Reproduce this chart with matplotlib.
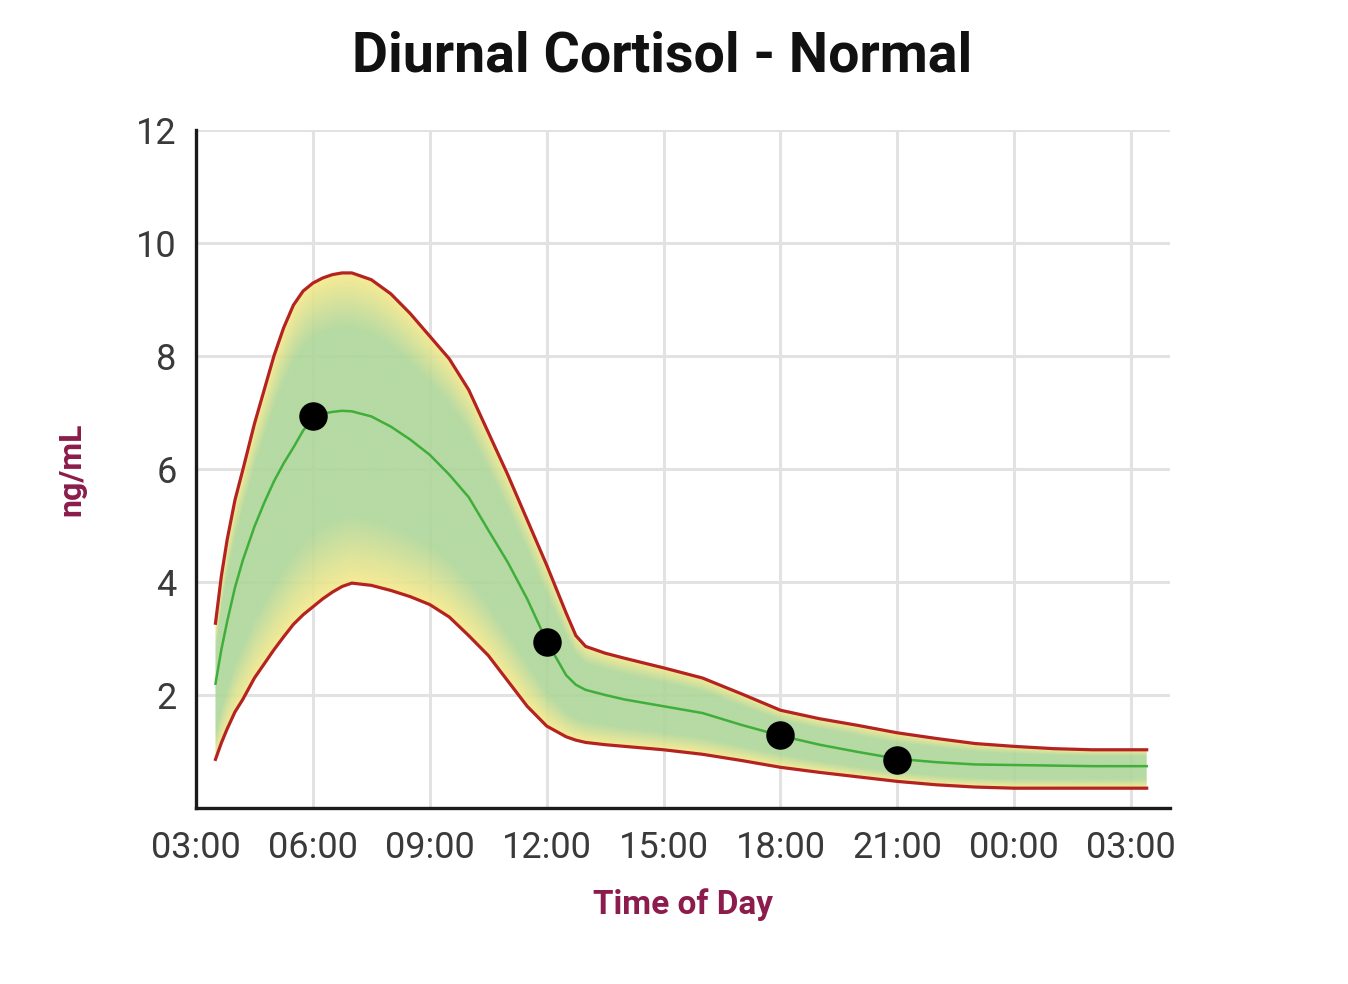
import numpy as np
import matplotlib
matplotlib.use('Agg')
import matplotlib.pyplot as plt
from matplotlib.patches import Polygon
from matplotlib.colors import to_rgb

# hours of day (27.4 = 03:24 next day)
hours = [3.5, 3.65, 3.8, 4.0, 4.2, 4.5, 4.75, 5.0, 5.25, 5.5, 5.75, 6.0, 6.25, 6.5,
         6.75, 7.0, 7.5, 8.0, 8.5, 9.0, 9.5, 10.0, 10.5, 11.0, 11.5, 12.0, 12.5,
         12.75, 13.0, 13.5, 14.0, 15.0, 16.0, 17.0, 18.0, 19.0, 20.0, 21.0, 22.0,
         23.0, 24.0, 25.0, 26.0, 27.4]
upper = [3.27, 4.1, 4.75, 5.45, 5.98, 6.8, 7.4, 8.0, 8.5, 8.9, 9.15, 9.29, 9.38, 9.44,
         9.47, 9.47, 9.35, 9.1, 8.75, 8.35, 7.95, 7.4, 6.65, 5.9, 5.1, 4.3, 3.45,
         3.05, 2.86, 2.74, 2.65, 2.48, 2.3, 2.02, 1.73, 1.58, 1.46, 1.33, 1.23,
         1.14, 1.09, 1.05, 1.03, 1.03]
middle = [2.2, 2.8, 3.3, 3.9, 4.38, 4.98, 5.4, 5.78, 6.1, 6.38, 6.68, 6.9, 6.98, 7.01,
          7.03, 7.02, 6.93, 6.75, 6.52, 6.25, 5.9, 5.5, 4.92, 4.35, 3.7, 2.95, 2.35,
          2.18, 2.09, 2.0, 1.92, 1.8, 1.68, 1.47, 1.28, 1.12, 0.99, 0.87, 0.81,
          0.77, 0.76, 0.75, 0.74, 0.74]
lower = [0.86, 1.15, 1.4, 1.7, 1.92, 2.3, 2.55, 2.8, 3.03, 3.25, 3.42, 3.56, 3.7, 3.82,
         3.92, 3.98, 3.94, 3.85, 3.74, 3.6, 3.38, 3.05, 2.7, 2.25, 1.8, 1.45, 1.26,
         1.2, 1.16, 1.12, 1.09, 1.03, 0.95, 0.84, 0.72, 0.63, 0.55, 0.47, 0.41,
         0.37, 0.35, 0.35, 0.35, 0.35]

# patient samples
sample_hours = [6, 12, 18, 21]
sample_values = [6.93, 2.94, 1.29, 0.85]

xticks = [3, 6, 9, 12, 15, 18, 21, 24, 27]
xticklabels = ['03:00', '06:00', '09:00', '12:00', '15:00', '18:00', '21:00', '00:00', '03:00']
yticks = [2, 4, 6, 8, 10, 12]

plt.rcParams['font.family'] = ['Roboto', 'DejaVu Sans']

fig = plt.figure(figsize=(13.48, 9.84), dpi=100)
ax = fig.add_axes([0.1454, 0.1789, 0.7226, 0.6890])

# gradient band: green core, yellow near the limits
gx = np.linspace(3.4, 27.5, 1400)
gy = np.linspace(0, 10, 700)
X, Y = np.meshgrid(gx, gy)
U = np.interp(X, hours, upper)
M = np.interp(X, hours, middle)
L = np.interp(X, hours, lower)
d = np.where(Y >= M, (Y - M) / np.maximum(U - M, 1e-6), (M - Y) / np.maximum(M - L, 1e-6))
t = np.clip((d - 0.6) / 0.4, 0, 1)[..., None]
green = np.array(to_rgb('#aed699'))
yellow = np.array(to_rgb('#f7e98a'))
rgb = green * (1 - t) + yellow * t
rgba = np.concatenate([rgb, np.full(rgb.shape[:2] + (1,), 0.9)], axis=2)
im = ax.imshow(rgba, extent=[3.4, 27.5, 0, 10], origin='lower', aspect='auto',
               interpolation='bilinear', zorder=1)
band = Polygon(np.column_stack([hours + hours[::-1], upper + lower[::-1]]),
               closed=True, facecolor='none', edgecolor='none')
ax.add_patch(band)
im.set_clip_path(band)

ax.plot(hours, upper, color='#b52320', lw=2.3, zorder=3, solid_joinstyle='round')
ax.plot(hours, lower, color='#b52320', lw=2.3, zorder=3, solid_joinstyle='round')
ax.plot(hours, middle, color='#3fae3a', lw=1.8, zorder=3, solid_joinstyle='round')
ax.plot(sample_hours, sample_values, 'o', color='black', markersize=19.5, zorder=4)

ax.set_xlim(3, 28)
ax.set_ylim(0, 12)
ax.set_xticks(xticks)
ax.set_xticklabels(xticklabels)
ax.set_yticks(yticks)
ax.tick_params(length=0, labelsize=26, labelcolor='#3a3a3a')
ax.tick_params(axis='x', pad=16)
ax.tick_params(axis='y', pad=14)
ax.grid(True, color='#e2e2e2', lw=2.2)
ax.set_axisbelow(True)

for s in ['top', 'right']:
    ax.spines[s].set_visible(False)
for s in ['left', 'bottom']:
    ax.spines[s].set_linewidth(2.4)
    ax.spines[s].set_color('#1a1a1a')

ax.set_xlabel('Time of Day', fontsize=24, fontweight='bold', color='#8b1c4c', labelpad=16)
ax.set_ylabel('ng/mL', fontsize=23, fontweight='bold', color='#8b1c4c', labelpad=36)
fig.text(0.491, 0.943, 'Diurnal Cortisol - Normal', fontsize=40, fontweight='bold',
         ha='center', va='center', color='#111111')

fig.savefig('out.png', dpi=100)
